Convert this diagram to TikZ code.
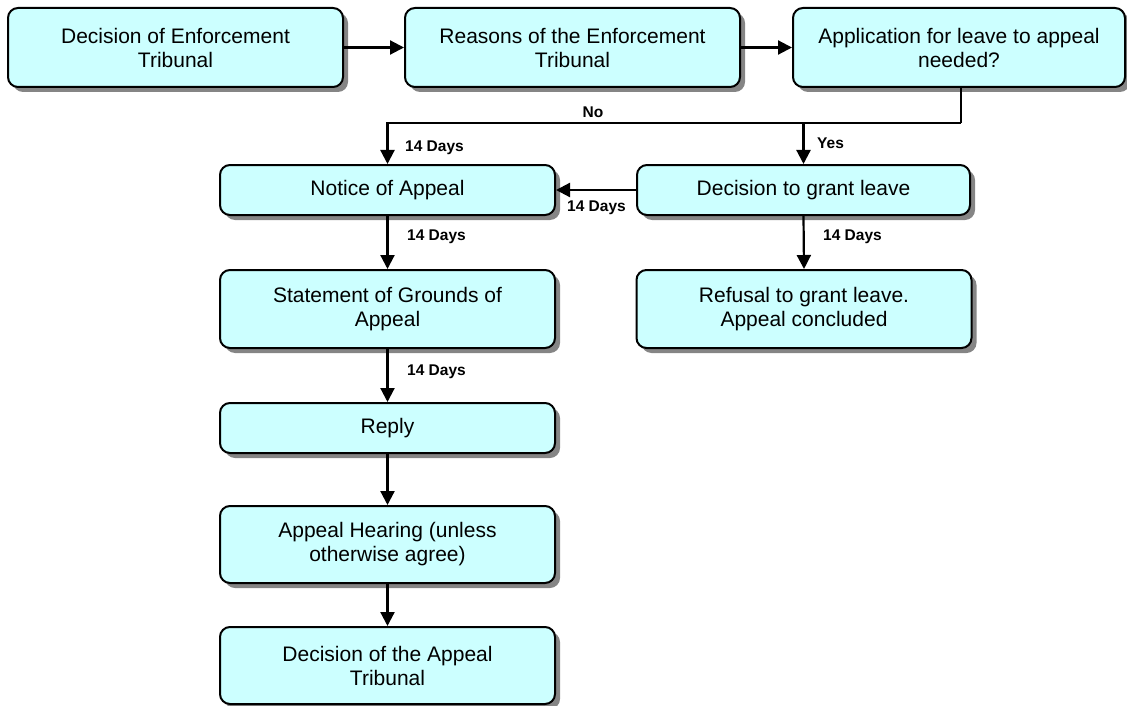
\documentclass[tikz,border=0pt]{standalone}
\usepackage{fontspec}
\setmainfont{Liberation Sans}
\usetikzlibrary{arrows.meta,shadows}
\definecolor{boxfill}{HTML}{CCFFFF}
\definecolor{shadowgray}{HTML}{858585}
\begin{document}
\begin{tikzpicture}[x=1pt,y=-1pt,
  box/.style={draw=black,line width=2pt,fill=boxfill,rounded corners=10pt,
    minimum width=335pt,inner sep=0pt,align=center,
    font=\fontsize{21}{24}\selectfont,
    general shadow={fill=shadowgray,shadow xshift=5pt,shadow yshift=-5pt}},
  arr/.style={line width=2.2pt,-{Triangle[length=14pt,width=14pt]}},
  lab/.style={font=\fontsize{15.5}{18}\selectfont\bfseries,inner sep=0pt}]
\useasboundingbox (0,0) rectangle (1127,706);
\node[box,minimum height=79pt] (b1) at (175.5,47.5) {Decision of Enforcement\\Tribunal};
\node[box,minimum height=79pt] (b2) at (572.5,47.5) {Reasons of the Enforcement\\Tribunal};
\node[box,minimum height=79pt,minimum width=332pt] (b3) at (959,47.5) {Application for leave to appeal\\needed?};
\node[box,minimum height=50pt] (notice) at (387.5,190) {Notice of Appeal};
\node[box,minimum height=50pt,minimum width=333pt] (grant) at (803.5,190) {Decision to grant leave};
\node[box,minimum height=78pt] (stmt) at (387.5,309) {Statement of Grounds of\\Appeal};
\node[box,minimum height=78pt] (refusal) at (804,309) {Refusal to grant leave.\\Appeal concluded};
\node[box,minimum height=50pt] (reply) at (387.5,428) {Reply};
\node[box,minimum height=77pt] (hearing) at (387.5,544.5) {Appeal Hearing (unless\\otherwise agree)};
\node[box,minimum height=77pt] (final) at (387.5,665.5) {Decision of the Appeal\\Tribunal};
\coordinate (bend) at (961,123);
\coordinate (split) at (803.5,123);
\draw[arr] (b1.east) -- (b2.west);
\draw[arr] (b2.east) -- (b3.west);
\draw[line width=2.2pt] (b3.south -| bend) -- (bend);
\draw[arr] (bend) -| (notice.north);
\draw[arr] (split) -- (grant.north);
\draw[arr] (grant.west) -- (notice.east);
\draw[arr] (notice.south) -- (stmt.north);
\draw[arr] (stmt.south) -- (reply.north);
\draw[arr] (reply.south) -- (hearing.north);
\draw[arr] (hearing.south) -- (final.north);
\draw[arr] (grant.south) -- (refusal.north);
\node[lab] (lno) at (593,112) {No};
\node[lab,anchor=west] (lyes) at (817,143) {Yes};
\node[lab,anchor=west] (l1) at (405,148) {14 Days};
\node[lab,anchor=west] (l2) at (567,208) {14 Days};
\node[lab,anchor=west] (l3) at (407,237) {14 Days};
\node[lab,anchor=west] (l4) at (407,372) {14 Days};
\node[lab,anchor=west] (l5) at (823,237) {14 Days};
\end{tikzpicture}
\end{document}
